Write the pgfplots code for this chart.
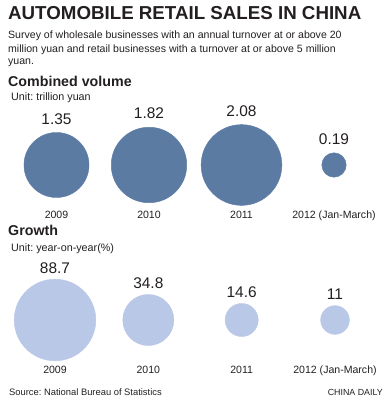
\documentclass[border=0pt]{standalone}
\usepackage{pgfplots}
\usepackage{pgfplotstable}
\pgfplotsset{compat=1.18}
\usepackage{fontspec}
\setmainfont{Liberation Sans}
\frenchspacing
\definecolor{topblue}{RGB}{92,123,163}
\definecolor{lightblue}{RGB}{186,200,232}
\definecolor{txt}{RGB}{35,31,32}
\pgfplotstableread{
x y v
0 0 1.35
1 0 1.82
2 0 2.08
3 0 0.19
}\volume
\pgfplotstableread{
x y v
0 0 88.7
1 0 34.8
2 0 14.6
3 0 11
}\growth
\pgfplotsset{
  bubble/.style={
    scale only axis, clip=false,
    axis line style={draw=none}, major tick length=0pt,
    xmin=0, xmax=3,
    xtick={0,1,2,3}, xticklabels={2009,2010,2011,2012 (Jan-March)},
    ytick=\empty,
    xticklabel style={font=\fontsize{10.6}{12}\selectfont, text=txt, inner sep=0pt, anchor=base},
    /pgf/number format/assume math mode=true,
  }
}
\begin{document}
\begin{tikzpicture}
\path[use as bounding box] (0,0) rectangle (392bp,-403bp);
% texts
\node[anchor=base west, inner sep=0, text=txt, font=\bfseries\fontsize{18.8}{20}\selectfont] at (8bp,-19.5bp) {AUTOMOBILE RETAIL SALES IN CHINA};
\node[anchor=base west, inner sep=0, text=txt, font=\fontsize{10.6}{12}\selectfont] at (8bp,-38.3bp) {Survey of wholesale businesses with an annual turnover at or above 20};
\node[anchor=base west, inner sep=0, text=txt, font=\fontsize{10.6}{12}\selectfont] at (8bp,-52.7bp) {million yuan and retail businesses with a turnover at or above 5 million};
\node[anchor=base west, inner sep=0, text=txt, font=\fontsize{10.6}{12}\selectfont] at (8bp,-64bp) {yuan.};
\node[anchor=base west, inner sep=0, text=txt, font=\bfseries\fontsize{14.3}{16}\selectfont] at (8bp,-86bp) {Combined volume};
\node[anchor=base west, inner sep=0, text=txt, font=\fontsize{10.8}{12}\selectfont] at (11bp,-100.7bp) {Unit: trillion yuan};
\node[anchor=base west, inner sep=0, text=txt, font=\bfseries\fontsize{14.3}{16}\selectfont] at (8bp,-235.7bp) {Growth};
\node[anchor=base west, inner sep=0, text=txt, font=\fontsize{10.8}{12}\selectfont] at (11bp,-251.7bp) {Unit: year-on-year(\%)};
\node[anchor=base west, inner sep=0, text=txt, font=\fontsize{9.4}{11}\selectfont] at (9bp,-395.5bp) {Source: National Bureau of Statistics};
\node[anchor=base east, inner sep=0, text=txt, font=\fontsize{8.9}{11}\selectfont] at (383bp,-395.5bp) {CHINA DAILY};

% Combined volume
\begin{axis}[bubble,
  at={(56.5bp,-165bp)}, anchor=origin,
  width=277.5bp, height=84bp, ymin=-42, ymax=42,
  xticklabel style={yshift=-11.3pt}]
\addplot[scatter, only marks, mark=*,
  scatter/use mapped color={draw=topblue, fill=topblue},
  point meta=explicit,
  visualization depends on={28.1*sqrt(\thisrow{v}) \as \rad},
  scatter/@pre marker code/.append style={/tikz/mark size=\rad},
] table[x=x, y=y, meta=v] {\volume};
\addplot[draw=none, mark=none,
  point meta=explicit,
  visualization depends on={28.1*sqrt(\thisrow{v}) \as \rad},
  nodes near coords,
  every node near coord/.append style={anchor=south, inner sep=0pt, yshift=\rad+8, text=txt, font=\fontsize{15.5}{17}\selectfont},
] table[x=x, y=y, meta=v] {\volume};
\end{axis}

% Growth
\begin{axis}[bubble,
  at={(55bp,-320bp)}, anchor=origin,
  width=280bp, height=82bp, ymin=-41, ymax=41,
  xticklabel style={yshift=-12.3pt}]
\addplot[scatter, only marks, mark=*,
  scatter/use mapped color={draw=lightblue, fill=lightblue},
  point meta=explicit,
  visualization depends on={4.35*sqrt(\thisrow{v}) \as \rad},
  scatter/@pre marker code/.append style={/tikz/mark size=\rad},
] table[x=x, y=y, meta=v] {\growth};
\addplot[draw=none, mark=none,
  point meta=explicit,
  visualization depends on={4.35*sqrt(\thisrow{v}) \as \rad},
  nodes near coords,
  every node near coord/.append style={anchor=south, inner sep=0pt, yshift=\rad+5.5, text=txt, font=\fontsize{15.5}{17}\selectfont},
] table[x=x, y=y, meta=v] {\growth};
\end{axis}
\end{tikzpicture}
\end{document}
